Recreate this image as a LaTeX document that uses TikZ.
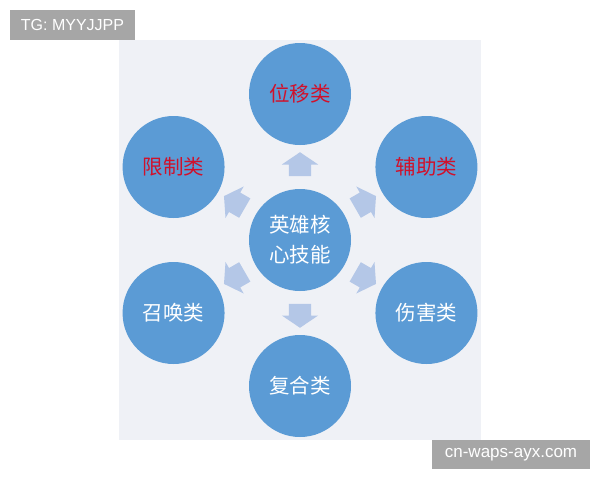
\documentclass[tikz,border=0pt]{standalone}
\usepackage{fontspec}
\usepackage{tikz}
\usetikzlibrary{shapes.arrows}
\setmainfont{Liberation Sans}
\newfontfamily\cjk{Noto Sans CJK SC}
\definecolor{panelgray}{HTML}{EFF1F6}
\definecolor{skillblue}{HTML}{5B9BD5}
\definecolor{flowblue}{HTML}{B4C7E7}
\definecolor{skillred}{HTML}{D0112B}
\definecolor{taggray}{HTML}{A6A6A6}
\tikzset{
  skill/.style={circle, fill=skillblue, minimum size=102pt, inner sep=0pt,
    text=white, font=\cjk\fontsize{20.5}{30}\selectfont, align=center},
  hot/.style={text=skillred},
  flow/.style={single arrow, fill=flowblue, minimum height=24pt,
    inner xsep=0pt, inner ysep=11pt, text height=0pt, text depth=0pt,
    single arrow head extend=7pt, single arrow tip angle=112},
  tag/.style={fill=taggray, text=white, inner sep=0pt, font=\fontsize{16}{16}\selectfont}
}
\def\ring{146}
\def\gap{72}

\begin{document}
\begin{tikzpicture}[x=1pt,y=1pt]
  \useasboundingbox (0,0) rectangle (600,-480);

  % Panel
  \fill[panelgray] (119,-40) rectangle (481,-440);

  % Core skill
  \node[skill] (core) at (300,-240) {英雄核\\心技能};

  % Outer skills
  \node[skill, hot] (move)    at ([shift={(90:\ring)}]core)   {位移类};
  \node[skill, hot] (assist)  at ([shift={(30:\ring)}]core)   {辅助类};
  \node[skill]      (damage)  at ([shift={(-30:\ring)}]core)  {伤害类};
  \node[skill]      (combo)   at ([shift={(-90:\ring)}]core)  {复合类};
  \node[skill]      (summon)  at ([shift={(-150:\ring)}]core) {召唤类};
  \node[skill, hot] (control) at ([shift={(150:\ring)}]core)  {限制类};

  % Arrows
  \foreach \ang in {90, 30, -30, -90, -150, 150}{
    \node[flow, rotate=\ang] (flow\ang) at ([shift={(\ang:\gap)}]core) {};
  }

  % Tags
  \node[tag, minimum width=125pt, minimum height=30pt] (tg) at (72.5,-25) {TG: MYYJJPP};
  \node[tag, minimum width=158pt, minimum height=29pt, font=\fontsize{17}{17}\selectfont] (site) at (511,-454.5) {cn-waps-ayx.com};

\end{tikzpicture}
\end{document}
